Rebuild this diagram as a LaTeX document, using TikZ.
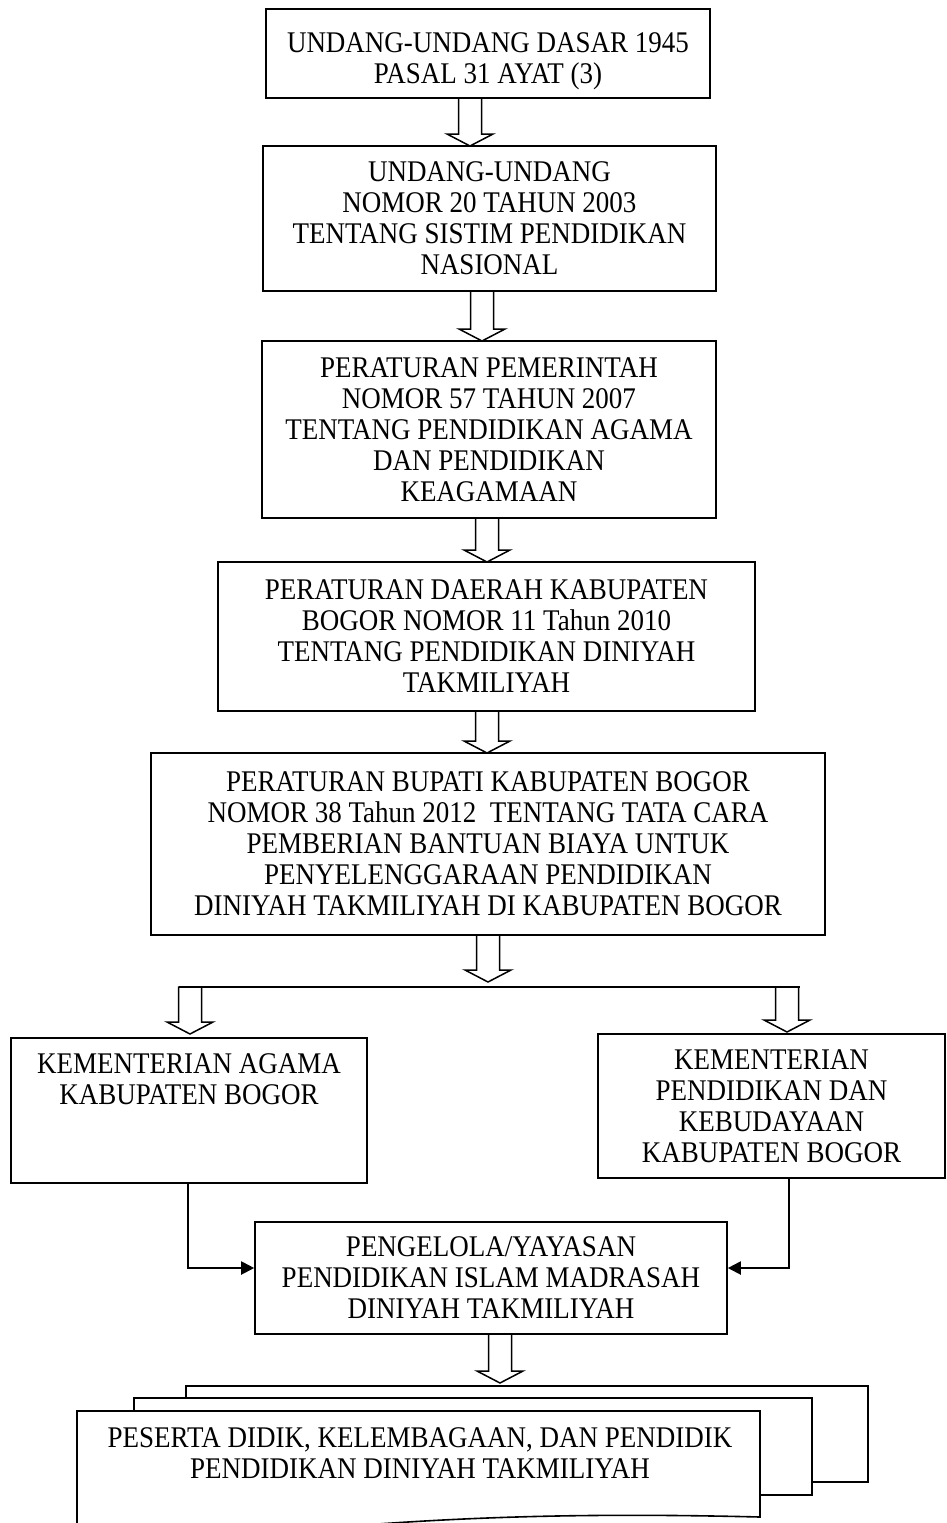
\documentclass[tikz,border=0pt]{standalone}
\usepackage{fontspec}
\setmainfont{Liberation Serif}[FakeStretch=0.9]
\usetikzlibrary{arrows.meta,calc}
\newcommand\blockarr[4]{% x, ytop, ybase, ytip
  \draw[blockst] (#1-11.5,#2) -- (#1+11.5,#2) -- (#1+11.5,#3) -- (#1+23,#3)
     -- (#1,#4) -- (#1-23,#3) -- (#1-11.5,#3) -- cycle;}
\begin{document}
\begin{tikzpicture}[x=1pt,y=-1pt,
  txt/.style={align=center, font=\fontsize{30}{31}\selectfont, inner sep=0pt},
  box/.style={txt, draw, line width=1.6pt, fill=white},
  blockst/.style={draw, line width=1.5pt, fill=white, line join=miter},
  conn/.style={draw, line width=2pt, -{Triangle[length=13pt,width=13pt]}},
  sheet/.style={draw, line width=1.6pt, fill=white}]
\useasboundingbox (0,0) rectangle (947,1523);
\clip (0,0) rectangle (947,1523);

\node[box, minimum width=444pt, minimum height=89pt] (b1) at (488,53.5)
  {\rule{0pt}{36pt}UNDANG-UNDANG DASAR 1945\\PASAL 31 AYAT (3)};
\node[box, minimum width=453pt, minimum height=145pt] (b2) at (489.5,218.5)
  {UNDANG-UNDANG\\NOMOR 20 TAHUN 2003\\TENTANG SISTIM PENDIDIKAN\\NASIONAL};
\node[box, minimum width=454pt, minimum height=177pt] (b3) at (489,429.5)
  {PERATURAN PEMERINTAH\\NOMOR 57 TAHUN 2007\\TENTANG PENDIDIKAN AGAMA\\DAN PENDIDIKAN\\KEAGAMAAN};
\node[box, minimum width=537pt, minimum height=149pt] (b4) at (486.5,636.5)
  {PERATURAN DAERAH KABUPATEN\\BOGOR NOMOR 11 Tahun 2010\\TENTANG PENDIDIKAN DINIYAH\\TAKMILIYAH};
\node[box, minimum width=674pt, minimum height=182pt] (b5) at (488,844)
  {PERATURAN BUPATI KABUPATEN BOGOR\\NOMOR 38 Tahun 2012~ TENTANG TATA CARA\\PEMBERIAN BANTUAN BIAYA UNTUK\\PENYELENGGARAAN PENDIDIKAN\\DINIYAH TAKMILIYAH DI KABUPATEN BOGOR};
\node[box, minimum width=356pt, minimum height=145pt] (b6) at (189,1110.5)
  {KEMENTERIAN AGAMA\\KABUPATEN BOGOR\\~\\~};
\node[box, minimum width=347pt, minimum height=144pt] (b7) at (771.5,1106)
  {KEMENTERIAN\\PENDIDIKAN DAN\\KEBUDAYAAN\\KABUPATEN BOGOR};
\node[box, minimum width=472pt, minimum height=112pt] (b8) at (491,1278)
  {PENGELOLA/YAYASAN\\PENDIDIKAN ISLAM MADRASAH\\DINIYAH TAKMILIYAH};

% block arrows
\blockarr{470}{98}{134}{146}
\blockarr{482}{291}{329}{341}
\blockarr{487}{518}{550}{562}
\blockarr{487}{711}{741}{753}
\blockarr{488}{935}{970}{982}
\coordinate (hl) at (179,987);
\coordinate (hr) at (800,987);
\draw[line width=1.6pt] (hl) -- (hr);
\blockarr{190}{987}{1022}{1034}
\blockarr{787}{987}{1020}{1032}
\blockarr{500}{1334}{1371}{1383}

% connectors
\draw[conn] ([xshift=-1pt]b6.south) |- ([yshift=10pt]b8.west);
\draw[conn] ([xshift=17.5pt]b7.south) |- ([yshift=10pt]b8.east);

% multi-document
\draw[sheet] (186,1386) rectangle (868,1482);
\draw[sheet] (134,1398) rectangle (812,1495);
\draw[sheet] (77,1411) -- (760,1411) -- (760,1517)
   .. controls (560,1512) and (420,1518) .. (250,1535)
   .. controls (160,1545) and (110,1545) .. (77,1540) -- cycle;
\node[txt] (pd) at (420,1453)
  {PESERTA DIDIK, KELEMBAGAAN, DAN PENDIDIK\\PENDIDIKAN DINIYAH TAKMILIYAH};
\end{tikzpicture}
\end{document}
